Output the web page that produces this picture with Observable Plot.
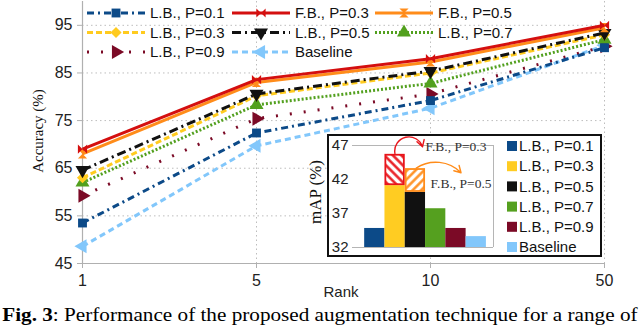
<!DOCTYPE html>
<html><head><meta charset="utf-8">
<script src="https://cdn.jsdelivr.net/npm/d3@7"></script>
<script src="https://cdn.jsdelivr.net/npm/@observablehq/plot@0.6"></script>
<style>
body{margin:0;background:#fff;}
#wrap{position:relative;width:640px;height:300px;}
#inset{position:absolute;left:327px;top:134px;width:271px;height:119px;border:2px solid #111;background:#fff;}
#inset svg, #main svg{display:block;}
#cap{font-family:"Liberation Serif","Times New Roman",serif;font-size:19px;line-height:22px;white-space:nowrap;padding-left:2px;padding-top:4px;color:#000;transform:scaleX(1.115);transform-origin:0 0;}
</style></head><body>
<div id="wrap"><div id="main"></div><div id="inset"></div></div>
<div id="cap"><b>Fig. 3</b>: Performance of the proposed augmentation technique for a range of</div>
<script>
// ---------- data ----------
const ranks = ["1", "5", "10", "50"];
const seriesNames = ["L.B., P=0.1", "F.B., P=0.3", "F.B., P=0.5", "L.B., P=0.3", "L.B., P=0.5", "L.B., P=0.7", "L.B., P=0.9", "Baseline"];
const lb01 = [53.5, 72.4, 79.2, 90.3];
const fb03 = [69.0, 83.6, 88.0, 95.0];
const fb05 = [68.0, 83.0, 87.3, 94.5];
const lb03 = [63.0, 80.2, 85.0, 93.0];
const lb05 = [64.6, 80.6, 85.4, 93.4];
const lb07 = [62.0, 78.3, 82.8, 92.0];
const lb09 = [59.2, 75.4, 80.6, 90.6];
const baseline = [48.6, 69.7, 77.6, 90.8];
const accTicks = [45, 55, 65, 75, 85, 95];

const mapNames = ["L.B., P=0.1", "L.B., P=0.3", "L.B., P=0.5", "L.B., P=0.7", "L.B., P=0.9", "Baseline"];
const mapValues = [34.8, 41.1, 40.1, 37.7, 34.8, 33.6];
const fbNames = ["F.B., P=0.3", "F.B., P=0.5"];
const fbOnTopOf = ["L.B., P=0.3", "L.B., P=0.5"];
const fbMap = [45.7, 43.6];
const mapTicks = [32, 37, 42, 47];

// ---------- styles ----------
const hourglass = {draw(ctx, size) {const r = Math.sqrt(size) / 2; ctx.moveTo(-r, -r); ctx.lineTo(r, -r); ctx.lineTo(-r, r); ctx.lineTo(r, r); ctx.closePath();}};
const bowtie = {draw(ctx, size) {const r = Math.sqrt(size) / 2; ctx.moveTo(-r, -r); ctx.lineTo(-r, r); ctx.lineTo(r, -r); ctx.lineTo(r, r); ctx.closePath();}};
const styles = {
  "L.B., P=0.1": {color: "#0c4a88", dash: "7,4,2,4", symbol: d3.symbolSquare, rotate: 0, r: 5},
  "F.B., P=0.3": {color: "#d40f0f", dash: null, symbol: bowtie, rotate: 0, r: 5.2},
  "F.B., P=0.5": {color: "#ff8c1a", dash: null, symbol: hourglass, rotate: 0, r: 5.2},
  "L.B., P=0.3": {color: "#ffcb1f", dash: "6,3", symbol: d3.symbolDiamond2, rotate: 0, r: 5},
  "L.B., P=0.5": {color: "#111111", dash: "9,4,2,4", symbol: d3.symbolTriangle, rotate: 180, r: 5.2},
  "L.B., P=0.7": {color: "#52a01e", dash: "2,2", symbol: d3.symbolTriangle, rotate: 0, r: 5.2},
  "L.B., P=0.9": {color: "#7b0a26", dash: "2,12", symbol: d3.symbolTriangle, rotate: 90, r: 5.2},
  "Baseline":    {color: "#82c7fb", dash: "6,4", symbol: d3.symbolTriangle, rotate: -90, r: 5.2}
};
const seriesValues = [lb01, fb03, fb05, lb03, lb05, lb07, lb09, baseline];
const rows = seriesNames.flatMap((name, i) => ranks.map((rank, j) => ({name, rank, value: seriesValues[i][j]})));
const drawOrder = ["Baseline", "L.B., P=0.9", "L.B., P=0.7", "L.B., P=0.3", "L.B., P=0.5", "L.B., P=0.1", "F.B., P=0.5", "F.B., P=0.3"];

const sans = "Liberation Sans, Arial, sans-serif";
const serif = "Liberation Serif, Times New Roman, serif";

const seriesMarks = drawOrder.flatMap(name => {
  const s = styles[name];
  const d = rows.filter(r => r.name === name);
  return [
    Plot.line(d, {x: "rank", y: "value", stroke: s.color, strokeWidth: 3, strokeDasharray: s.dash, strokeLinecap: "butt"}),
    Plot.dot(d, {x: "rank", y: "value", symbol: s.symbol, fill: s.color, r: s.r, rotate: s.rotate, stroke: "none"})
  ];
});

const chart = Plot.plot({
  width: 640, height: 300,
  marginLeft: 82, marginRight: 36, marginTop: 1, marginBottom: 37,
  x: {type: "point", domain: ranks, padding: 0},
  y: {domain: [45, 100]},
  style: {fontFamily: sans, fontSize: "16px", color: "#222", background: "#fff"},
  marks: [
    Plot.ruleY(accTicks.slice(1), {stroke: "#bdbdbd", strokeDasharray: "1.5,3"}),
    Plot.ruleX(ranks.slice(1), {stroke: "#bdbdbd", strokeDasharray: "1.5,3"}),
    Plot.ruleY([45], {stroke: "#b0b0b0", strokeWidth: 1.2}),
    Plot.ruleX([ranks[0]], {stroke: "#b0b0b0", strokeWidth: 1.2}),
    Plot.axisY(accTicks, {tickSize: 5, tickPadding: 5, stroke: "#b0b0b0", fill: "#222", fontSize: 16, label: null}),
    Plot.axisX(ranks, {tickSize: 5, tickPadding: 6, stroke: "#b0b0b0", fill: "#222", fontSize: 16, label: null}),
    ...seriesMarks
  ]
});
document.getElementById("main").appendChild(chart);

// legend + axis titles on main chart
const svg = d3.select(chart);
const leg = svg.append("g");
const colX = [87, 232, 375], rowY = [13, 32.5, 52];
seriesNames.forEach((name, i) => {
  const s = styles[name];
  const x0 = colX[i % 3], y0 = rowY[Math.floor(i / 3)];
  const g = leg.append("g");
  g.append("line").attr("x1", x0).attr("x2", x0 + 58).attr("y1", y0).attr("y2", y0)
    .attr("stroke", s.color).attr("stroke-width", 3).attr("stroke-dasharray", s.dash);
  g.append("path").attr("d", d3.symbol(s.symbol, Math.PI * s.r * s.r)())
    .attr("transform", `translate(${x0 + 29},${y0}) rotate(${s.rotate})`).attr("fill", s.color);
  g.append("text").attr("x", x0 + 63).attr("y", y0).attr("dy", "0.35em").attr("text-anchor", "start")
    .attr("font-family", sans).attr("font-size", 15).attr("fill", "#111").text(name);
});
svg.append("text").attr("transform", "translate(38,131) rotate(-90)").attr("text-anchor", "middle").attr("dy", "0.35em")
  .attr("font-family", serif).attr("font-size", 15).attr("fill", "#111").text("Accuracy (%)");
svg.append("text").attr("transform", "translate(315,192) rotate(-90)").attr("text-anchor", "middle").attr("dy", "0.35em")
  .attr("font-family", serif).attr("font-size", 17).attr("fill", "#111").text("mAP (%)");
svg.append("text").attr("x", 341).attr("y", 297).attr("text-anchor", "middle")
  .attr("font-family", sans).attr("font-size", 15).attr("fill", "#222").text("Rank");

// ---------- inset bar chart ----------
const barColors = {"L.B., P=0.1": "#0c4a88", "L.B., P=0.3": "#ffcc22", "L.B., P=0.5": "#111111", "L.B., P=0.7": "#55a01f", "L.B., P=0.9": "#7b0a26", "Baseline": "#82c7fb"};
const bars = mapNames.map((name, i) => ({name, i, value: mapValues[i]}));
const fbBars = fbNames.map((name, k) => {
  const i = mapNames.indexOf(fbOnTopOf[k]);
  return {name, i, base: mapValues[i], value: fbMap[k]};
});
const fbColor = ["#e8141a", "#ff8c1a"];
const fbPat = ["url(#hatchRed)", "url(#hatchOrange)"];

const inset = Plot.plot({
  width: 271, height: 119,
  marginLeft: 23, marginRight: 107, marginTop: 9, marginBottom: 8,
  x: {domain: [-1.1, 5.85], axis: null},
  y: {domain: [32, 47]},
  style: {fontFamily: sans, fontSize: "15px", color: "#222", background: "#fff"},
  marks: [
    Plot.ruleY([32, 47], {stroke: "#b5b5b5"}),
    Plot.ruleX([5.85], {y1: 32, y2: 47, stroke: "#b5b5b5"}),
    Plot.axisY(mapTicks, {tickSize: 0, tickPadding: 4, fill: "#222", fontSize: 15, label: null}),
    Plot.rectY(bars, {x1: d => d.i - 0.5, x2: d => d.i + 0.5, y1: 32, y2: "value", fill: d => barColors[d.name]}),
    Plot.rectY(fbBars, {x1: d => d.i - 0.5, x2: d => d.i + 0.5, y1: "base", y2: "value", fill: (d, k) => fbPat[k], stroke: (d, k) => fbColor[k], strokeWidth: 1.8, inset: 0.9}),
    Plot.arrow(fbBars.slice(0, 1), {x1: "i", y1: "value", x2: 2.35, y2: 46.8, bend: 88, stroke: fbColor[0], strokeWidth: 1.4, headLength: 8, insetStart: 1}),
    Plot.arrow(fbBars.slice(1, 2), {x1: "i", y1: "value", x2: 4.25, y2: 43.0, bend: 40, stroke: fbColor[1], strokeWidth: 1.4, headLength: 8, insetStart: 1}),
    Plot.text(fbNames.slice(0, 1), {x: 2.5, y: 46.85, text: d => d, textAnchor: "start", fontFamily: serif, fontSize: 13.5, fill: "#333"}),
    Plot.text(fbNames.slice(1, 2), {x: 2.75, y: 41.4, text: d => d, textAnchor: "start", fontFamily: serif, fontSize: 13.5, fill: "#333"})
  ]
});
document.getElementById("inset").appendChild(inset);
const isvg = d3.select(inset);
const defs = isvg.insert("defs", ":first-child");
[["hatchRed", "#e8141a", -45], ["hatchOrange", "#ff8c1a", 45]].forEach(([id, c, a]) => {
  const p = defs.append("pattern").attr("id", id).attr("patternUnits", "userSpaceOnUse")
    .attr("width", 6).attr("height", 6).attr("patternTransform", `rotate(${a})`);
  p.append("rect").attr("width", 6).attr("height", 6).attr("fill", "#fff");
  p.append("line").attr("x1", 1.5).attr("x2", 1.5).attr("y1", 0).attr("y2", 6).attr("stroke", c).attr("stroke-width", 2.4);
});
const ileg = isvg.append("g");
mapNames.forEach((name, i) => {
  const y0 = 10 + i * 20.2;
  ileg.append("rect").attr("x", 178).attr("y", y0 - 5).attr("width", 10).attr("height", 10).attr("fill", barColors[name]);
  ileg.append("text").attr("x", 190).attr("y", y0).attr("dy", "0.35em").attr("text-anchor", "start").attr("font-family", sans)
    .attr("font-size", 15).attr("fill", "#111").text(name);
});
</script>
</body></html>
